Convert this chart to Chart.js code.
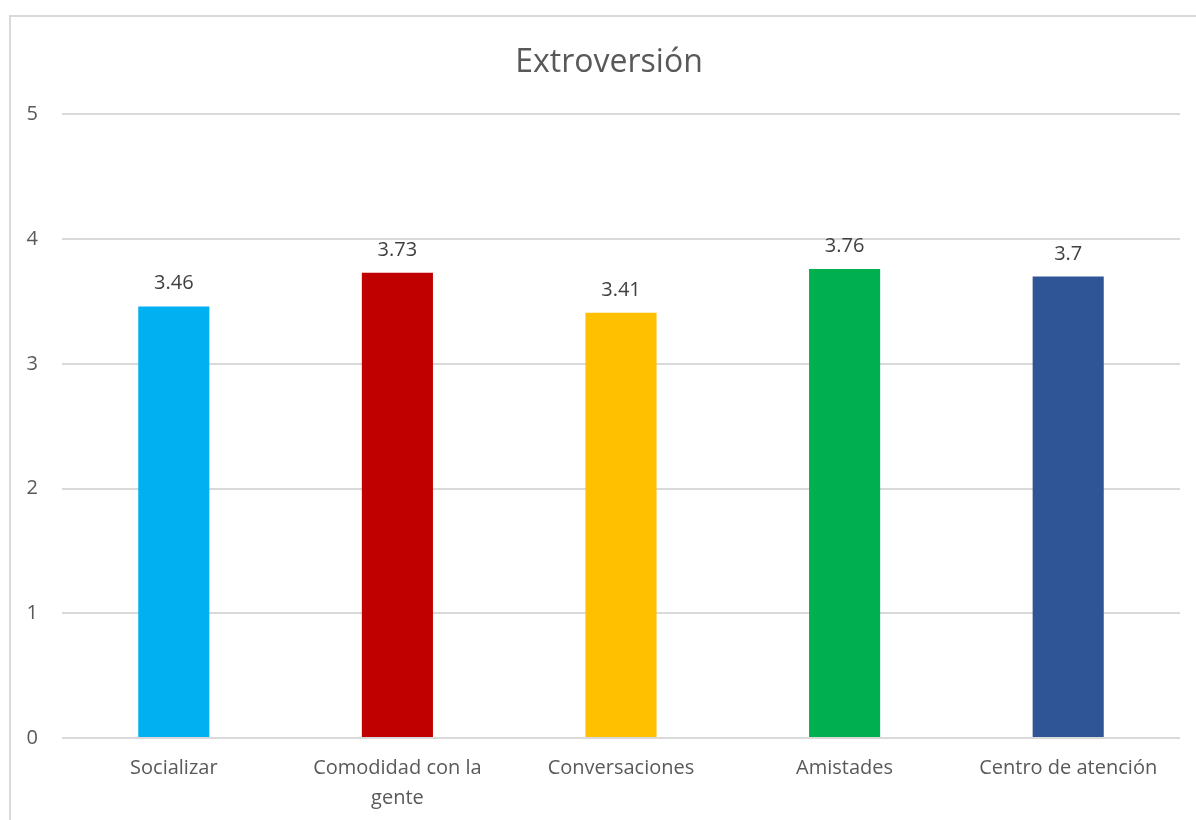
<!DOCTYPE html>
<html lang="es">
<head>
    <meta charset="UTF-8">
    <title>Extroversión</title>
    <script src="https://cdn.jsdelivr.net/npm/chart.js"></script>
    <style>
        html, body {
            margin: 0;
            padding: 0;
            background: #ffffff;
            overflow: hidden;
        }
        .chart-box {
            position: absolute;
            left: 9px;
            top: 15px;
            width: 1200px;
            height: 810px;
            border: 2px solid #d9d9d9;
            background: #ffffff;
        }
    </style>
</head>
<body>
    <div class="chart-box">
        <canvas id="extroChart" width="1200" height="810"></canvas>
    </div>

    <script>
        // Datos del gráfico
        const categorias = ['Socializar', ['Comodidad con la', 'gente'], 'Conversaciones', 'Amistades', 'Centro de atención'];
        const promedios = [3.46, 3.73, 3.41, 3.76, 3.7];
        const colores = ['#00B0F0', '#C00000', '#FFC000', '#00B050', '#2F5597'];
        const ticksY = [0, 1, 2, 3, 4, 5];

        const fuente = "'Open Sans', 'Noto Sans', sans-serif";

        // Etiquetas de valor encima de cada barra
        const etiquetasValor = {
            id: 'etiquetasValor',
            afterDatasetsDraw(chart) {
                const ctx = chart.ctx;
                const meta = chart.getDatasetMeta(0);
                ctx.save();
                ctx.font = '20px ' + fuente;
                ctx.fillStyle = '#404040';
                ctx.textAlign = 'center';
                ctx.textBaseline = 'alphabetic';
                meta.data.forEach((bar, i) => {
                    ctx.fillText(String(promedios[i]), bar.x, bar.y - 17);
                });
                ctx.restore();
            }
        };

        const ctx = document.getElementById('extroChart').getContext('2d');
        new Chart(ctx, {
            type: 'bar',
            data: {
                labels: categorias,
                datasets: [{
                    data: promedios,
                    backgroundColor: colores,
                    borderWidth: 0,
                    categoryPercentage: 1,
                    barPercentage: 0.318
                }]
            },
            options: {
                responsive: false,
                animation: false,
                layout: {
                    padding: { left: 0, right: 4, top: 0, bottom: 0 }
                },
                plugins: {
                    legend: { display: false },
                    tooltip: { enabled: false },
                    title: {
                        display: true,
                        text: 'Extroversión',
                        color: '#595959',
                        font: { family: fuente, size: 32, weight: 'normal', lineHeight: 1.2 },
                        padding: { top: 27, bottom: 32 }
                    }
                },
                scales: {
                    x: {
                        grid: { display: false, drawTicks: false },
                        border: { display: false },
                        ticks: {
                            color: '#595959',
                            font: { family: fuente, size: 20, lineHeight: 1.5 },
                            padding: 15,
                            maxRotation: 0,
                            autoSkip: false
                        },
                        afterFit(scale) { scale.height = 89; }
                    },
                    y: {
                        min: 0,
                        max: 5,
                        afterBuildTicks(scale) {
                            scale.ticks = ticksY.map(v => ({ value: v }));
                        },
                        grid: { color: '#d9d9d9', lineWidth: 2, drawTicks: false },
                        border: { display: false },
                        ticks: {
                            color: '#595959',
                            font: { family: fuente, size: 20 },
                            padding: 24
                        },
                        afterFit(scale) { scale.width = 51; }
                    },
                    // margen derecho vacío, deja el título centrado en todo el lienzo
                    margenDerecho: {
                        type: 'linear',
                        position: 'right',
                        grid: { display: false, drawTicks: false },
                        border: { display: false },
                        ticks: { display: false },
                        afterFit(scale) { scale.width = 27; }
                    }
                }
            },
            plugins: [etiquetasValor]
        });
    </script>
</body>
</html>
